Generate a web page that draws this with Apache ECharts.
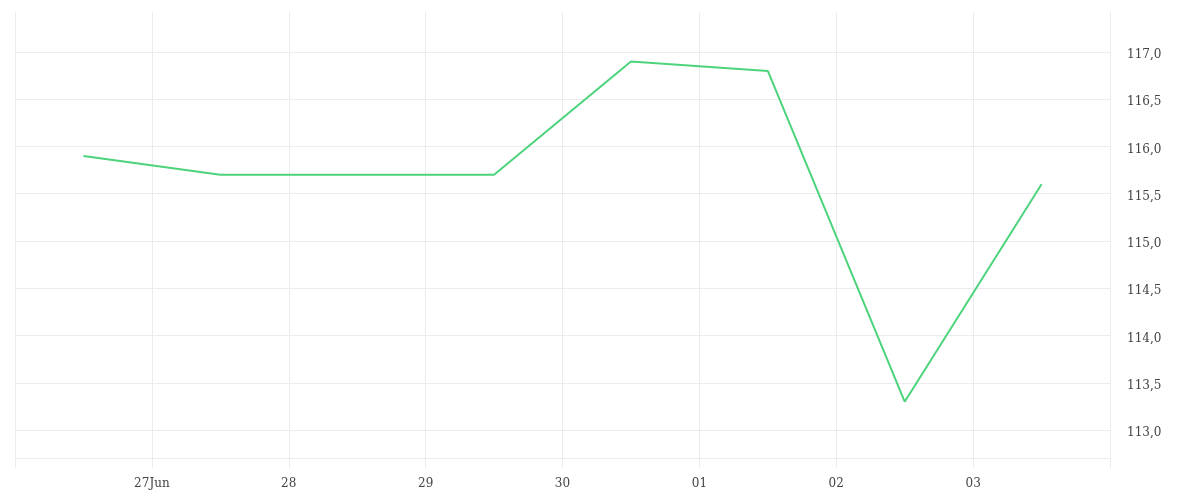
<!DOCTYPE html>
<html>
<head>
<meta charset="utf-8">
<script src="https://cdn.jsdelivr.net/npm/echarts@6/dist/echarts.min.js"></script>
<style>html,body{margin:0;padding:0;background:#fff;}#c{width:1200px;height:500px;}</style>
</head>
<body>
<div id="c"></div>
<script>
const dates = ['2020-06-26T12:00:00', '2020-06-27T12:00:00', '2020-06-29T12:00:00', '2020-06-30T12:00:00', '2020-07-01T12:00:00', '2020-07-02T12:00:00', '2020-07-03T12:00:00'];
const values = [115.9, 115.7, 115.7, 116.9, 116.8, 113.3, 115.6];
const tickDays = ['2020-06-26', '2020-06-27', '2020-06-28', '2020-06-29', '2020-06-30', '2020-07-01', '2020-07-02', '2020-07-03', '2020-07-04'];
const tickLabels = ['', '27Jun', '28', '29', '30', '01', '02', '03', ''];

const labelMap = {};
tickDays.forEach((d, i) => { labelMap[d] = tickLabels[i]; });
function dayKey(v) {
  const d = new Date(v);
  const p = n => String(n).padStart(2, '0');
  return d.getFullYear() + '-' + p(d.getMonth() + 1) + '-' + p(d.getDate());
}
const font = '"DejaVu Serif", serif';
const gridColor = '#ececec';
const chart = echarts.init(document.getElementById('c'));
chart.setOption({
  animation: false,
  grid: { left: 15, right: 90, top: 12, bottom: 42, containLabel: false },
  xAxis: {
    type: 'time',
    min: new Date(tickDays[0] + 'T00:00:00').getTime(),
    max: new Date(tickDays[tickDays.length - 1] + 'T00:00:00').getTime(),
    interval: 86400000,
    minInterval: 86400000,
    maxInterval: 86400000,
    axisLine: { show: true, lineStyle: { color: gridColor, width: 1 } },
    axisTick: { show: true, length: 10, lineStyle: { color: gridColor } },
    splitLine: { show: true, showMinLine: true, showMaxLine: true, lineStyle: { color: gridColor, width: 1 } },
    axisLabel: {
      margin: 20,
      color: '#444',
      fontFamily: font,
      fontSize: 12,
      showMinLabel: true,
      showMaxLabel: true,
      hideOverlap: false,
      formatter: v => { const k = dayKey(v); return labelMap[k] !== undefined ? labelMap[k] : ''; }
    }
  },
  yAxis: {
    type: 'value',
    position: 'right',
    min: 112.704,
    max: 117.423,
    splitNumber: 9,
    axisLine: { show: false },
    axisTick: { show: false },
    splitLine: { show: true, showMinLine: true, showMaxLine: false, lineStyle: { color: gridColor, width: 1 } },
    axisLabel: {
      margin: 17,
      color: '#444',
      fontFamily: font,
      fontSize: 12,
      verticalAlign: 'top',
      lineHeight: 6,
      showMinLabel: false,
      showMaxLabel: false,
      formatter: v => v.toFixed(1).replace('.', ',')
    }
  },
  series: [{
    type: 'line',
    data: dates.map((d, i) => [new Date(d).getTime(), values[i]]),
    showSymbol: false,
    symbol: 'none',
    lineStyle: { color: '#4cd37b', width: 2 },
    itemStyle: { color: '#4cd37b' }
  }]
});
</script>
</body>
</html>
